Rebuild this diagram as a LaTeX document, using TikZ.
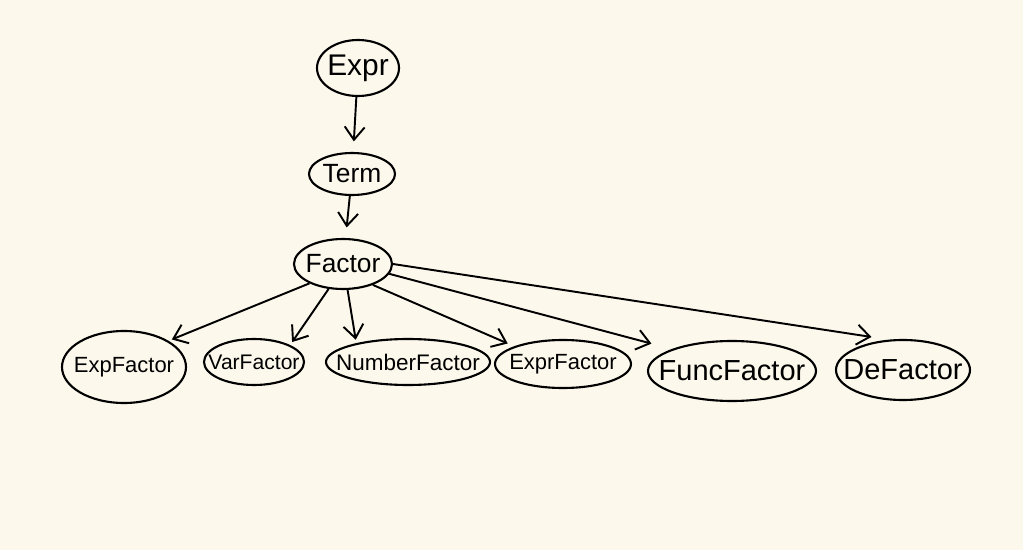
\documentclass[tikz,border=0pt]{standalone}
\usepackage{fontspec}
\setmainfont{Liberation Sans}
\usepackage{xcolor}
\usetikzlibrary{arrows.meta,shapes.geometric}
\definecolor{paper}{HTML}{FCF8EC}
\newcommand{\blobtext}[1]{\makebox[0pt]{#1}}

\begin{document}
\begin{tikzpicture}[
  blob/.style={ellipse, draw, line width=1.2pt, inner sep=0pt},
  edge/.style={line width=1.1pt, -{Straight Barb[length=2.6mm,width=4mm]}, shorten >=5pt}]
\fill[paper] (0,0) rectangle (20.46,-11);
\useasboundingbox (0,0) rectangle (20.46,-11);
% top chain
\node[blob,minimum width=1.64cm,minimum height=1.12cm,font=\fontsize{17}{19}\selectfont] (expr) at (7.16,-1.36) {\blobtext{Expr}};
\node[blob,minimum width=1.72cm,minimum height=0.84cm,font=\fontsize{15}{17}\selectfont] (term) at (7.04,-3.48) {\blobtext{Term}};
\node[blob,minimum width=1.96cm,minimum height=1.0cm,font=\fontsize{15}{17}\selectfont] (factor) at (6.86,-5.28) {\blobtext{Factor}};
% factor kinds
\node[blob,minimum width=2.48cm,minimum height=1.44cm,font=\fontsize{12.5}{14}\selectfont] (expf) at (2.48,-7.34) {\blobtext{ExpFactor}};
\node[blob,minimum width=2.0cm,minimum height=0.92cm,font=\fontsize{12}{14}\selectfont] (varf) at (5.08,-7.24) {\blobtext{VarFactor}};
\node[blob,minimum width=3.28cm,minimum height=0.92cm,font=\fontsize{12.8}{14}\selectfont] (numf) at (8.16,-7.24) {\blobtext{NumberFactor}};
\node[blob,minimum width=2.72cm,minimum height=0.96cm,font=\fontsize{12.5}{14}\selectfont] (exprf) at (11.26,-7.28) {\blobtext{ExprFactor}};
\node[blob,minimum width=3.36cm,minimum height=1.2cm,font=\fontsize{16.5}{18}\selectfont] (funcf) at (14.64,-7.42) {\blobtext{FuncFactor}};
\node[blob,minimum width=2.68cm,minimum height=1.2cm,font=\fontsize{16.5}{18}\selectfont] (def) at (18.06,-7.40) {\blobtext{DeFactor}};
% arrows
\draw[edge,shorten >=6pt] (expr) -- (term);
\draw[edge,shorten >=6pt] (term) -- (factor);
\draw[edge,shorten >=2pt] (factor.210) -- (expf.north east);
\draw[edge,shorten >=2pt] (factor.240) -- (varf.north east);
\draw[edge,shorten >=2pt] (factor.-80) -- (numf.160);
\draw[edge,shorten >=4pt] (factor.-35) -- (exprf.north west);
\draw[edge,shorten >=12pt] (factor.-12) -- (funcf.north west);
\draw[edge,shorten >=10pt] (factor.east) -- (def.115);
\end{tikzpicture}
\end{document}
